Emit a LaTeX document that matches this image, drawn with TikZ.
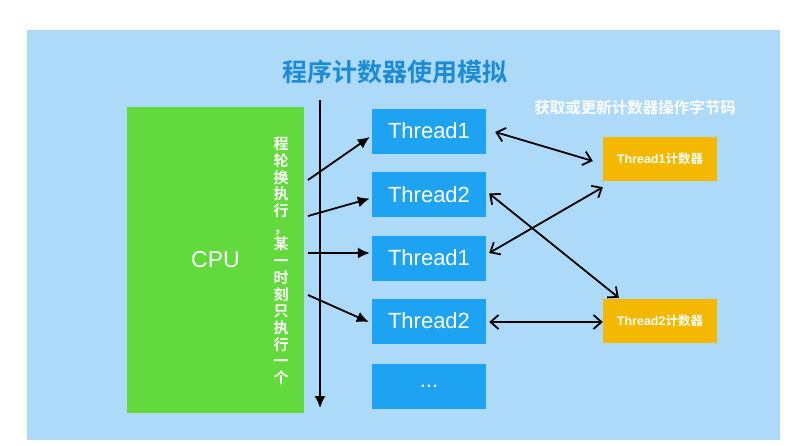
\documentclass[tikz,border=0pt]{standalone}
\usepackage{fontspec}
\setmainfont{Liberation Sans}
\newfontfamily\cjk[BoldFont={Noto Sans CJK SC Bold}]{Noto Sans CJK SC}
\usetikzlibrary{positioning, calc, arrows.meta}

\begin{document}
\begin{tikzpicture}[
  x=1pt, y=-1pt,
  >={Latex[length=12pt,width=11pt]},
  thrBox/.style={fill=cThread, text=white, minimum width=114pt,
                 minimum height=45pt, inner sep=0pt,
                 font=\fontsize{22}{24}\selectfont},
  cntBox/.style={fill=cCount, text=white, minimum width=114pt,
                 minimum height=44pt, inner sep=0pt,
                 font=\bfseries\fontsize{12.5}{14}\selectfont},
  dbl/.style={black, line width=1.8pt,
              {Straight Barb[length=8pt,width=14pt]}-{Straight Barb[length=8pt,width=14pt]}},
]
\definecolor{cBack}{HTML}{AEDAFA}    % light blue sheet
\definecolor{cThread}{HTML}{1DA3F2}  % thread boxes
\definecolor{cCpu}{HTML}{62D93C}     % cpu block
\definecolor{cCount}{HTML}{F5B800}   % counters
\definecolor{cTitle}{HTML}{1C8BD6}   % title text

\useasboundingbox (0,0) rectangle (798,445);

% ---------- sheet + title ----------
\fill[cBack] (27,30) rectangle (780,440);
\node[text=cTitle, font=\cjk\bfseries\fontsize{25}{27}\selectfont] (title) at (395,72)
  {程序计数器使用模拟};

% ---------- cpu block ----------
\node[fill=cCpu, text=white, minimum width=177pt, minimum height=306pt,
      inner sep=0pt, font=\fontsize{23}{25}\selectfont] (cpuBox) at (215.5,260)
  {CPU};
\node[text=white, align=center, inner sep=0pt,
      font=\cjk\bfseries\fontsize{15}{16.7}\selectfont] (turnText) at (281,261)
  {程\\轮\\换\\执\\行\\，\\某\\一\\时\\刻\\只\\执\\行\\一\\个};

% ---------- time axis ----------
\coordinate (timeTop) at (320,100);
\coordinate (timeBot) at (320,408);
\draw[black, line width=1.6pt, ->] (timeTop) -- (timeBot);

% ---------- threads ----------
\node[thrBox] (thrA) at (429,131)   {Thread1};
\node[thrBox] (thrB) at (429,194.5) {Thread2};
\node[thrBox] (thrC) at (429,258)   {Thread1};
\node[thrBox] (thrD) at (429,321)   {Thread2};
\node[thrBox] (thrE) at (429,386)   {...};

% ---------- cpu -> threads ----------
\coordinate (cpuOutA) at (308,180);
\coordinate (cpuOutB) at (308,216);
\coordinate (cpuOutC) at (308,253);
\coordinate (cpuOutD) at (308,295);
\draw[black, line width=1.8pt, ->] (cpuOutA) -- ($(thrA.west)+(-2,6)$);
\draw[black, line width=1.8pt, ->] (cpuOutB) -- ($(thrB.west)+(-2,4)$);
\draw[black, line width=1.8pt, ->] (cpuOutC) -- ($(thrC.west)+(-2,-5)$);
\draw[black, line width=1.8pt, ->] (cpuOutD) -- ($(thrD.west)+(-3,1)$);

% ---------- counters ----------
\node[text=white, font=\cjk\bfseries\fontsize{15.5}{17}\selectfont] (opLabel) at (635,108)
  {获取或更新计数器操作字节码};
\node[cntBox] (cntA) at (660,159) {Thread1{\cjk\bfseries 计数器}};
\node[cntBox] (cntB) at (660,321) {Thread2{\cjk\bfseries 计数器}};

% ---------- threads <-> counters ----------
\draw[dbl] ($(thrA.east)+(9,1)$)  -- ($(cntA.west)+(-10,2)$);
\draw[dbl] ($(thrB.east)+(3,-1)$) -- ($(cntB.north west)+(16,-1)$);
\draw[dbl] ($(thrC.east)+(3,-5)$) -- ($(cntA.south west)+(0,6)$);
\draw[dbl] ($(thrD.east)+(3,1)$)  -- ($(cntB.west)+(0,1)$);

\end{tikzpicture}
\end{document}
